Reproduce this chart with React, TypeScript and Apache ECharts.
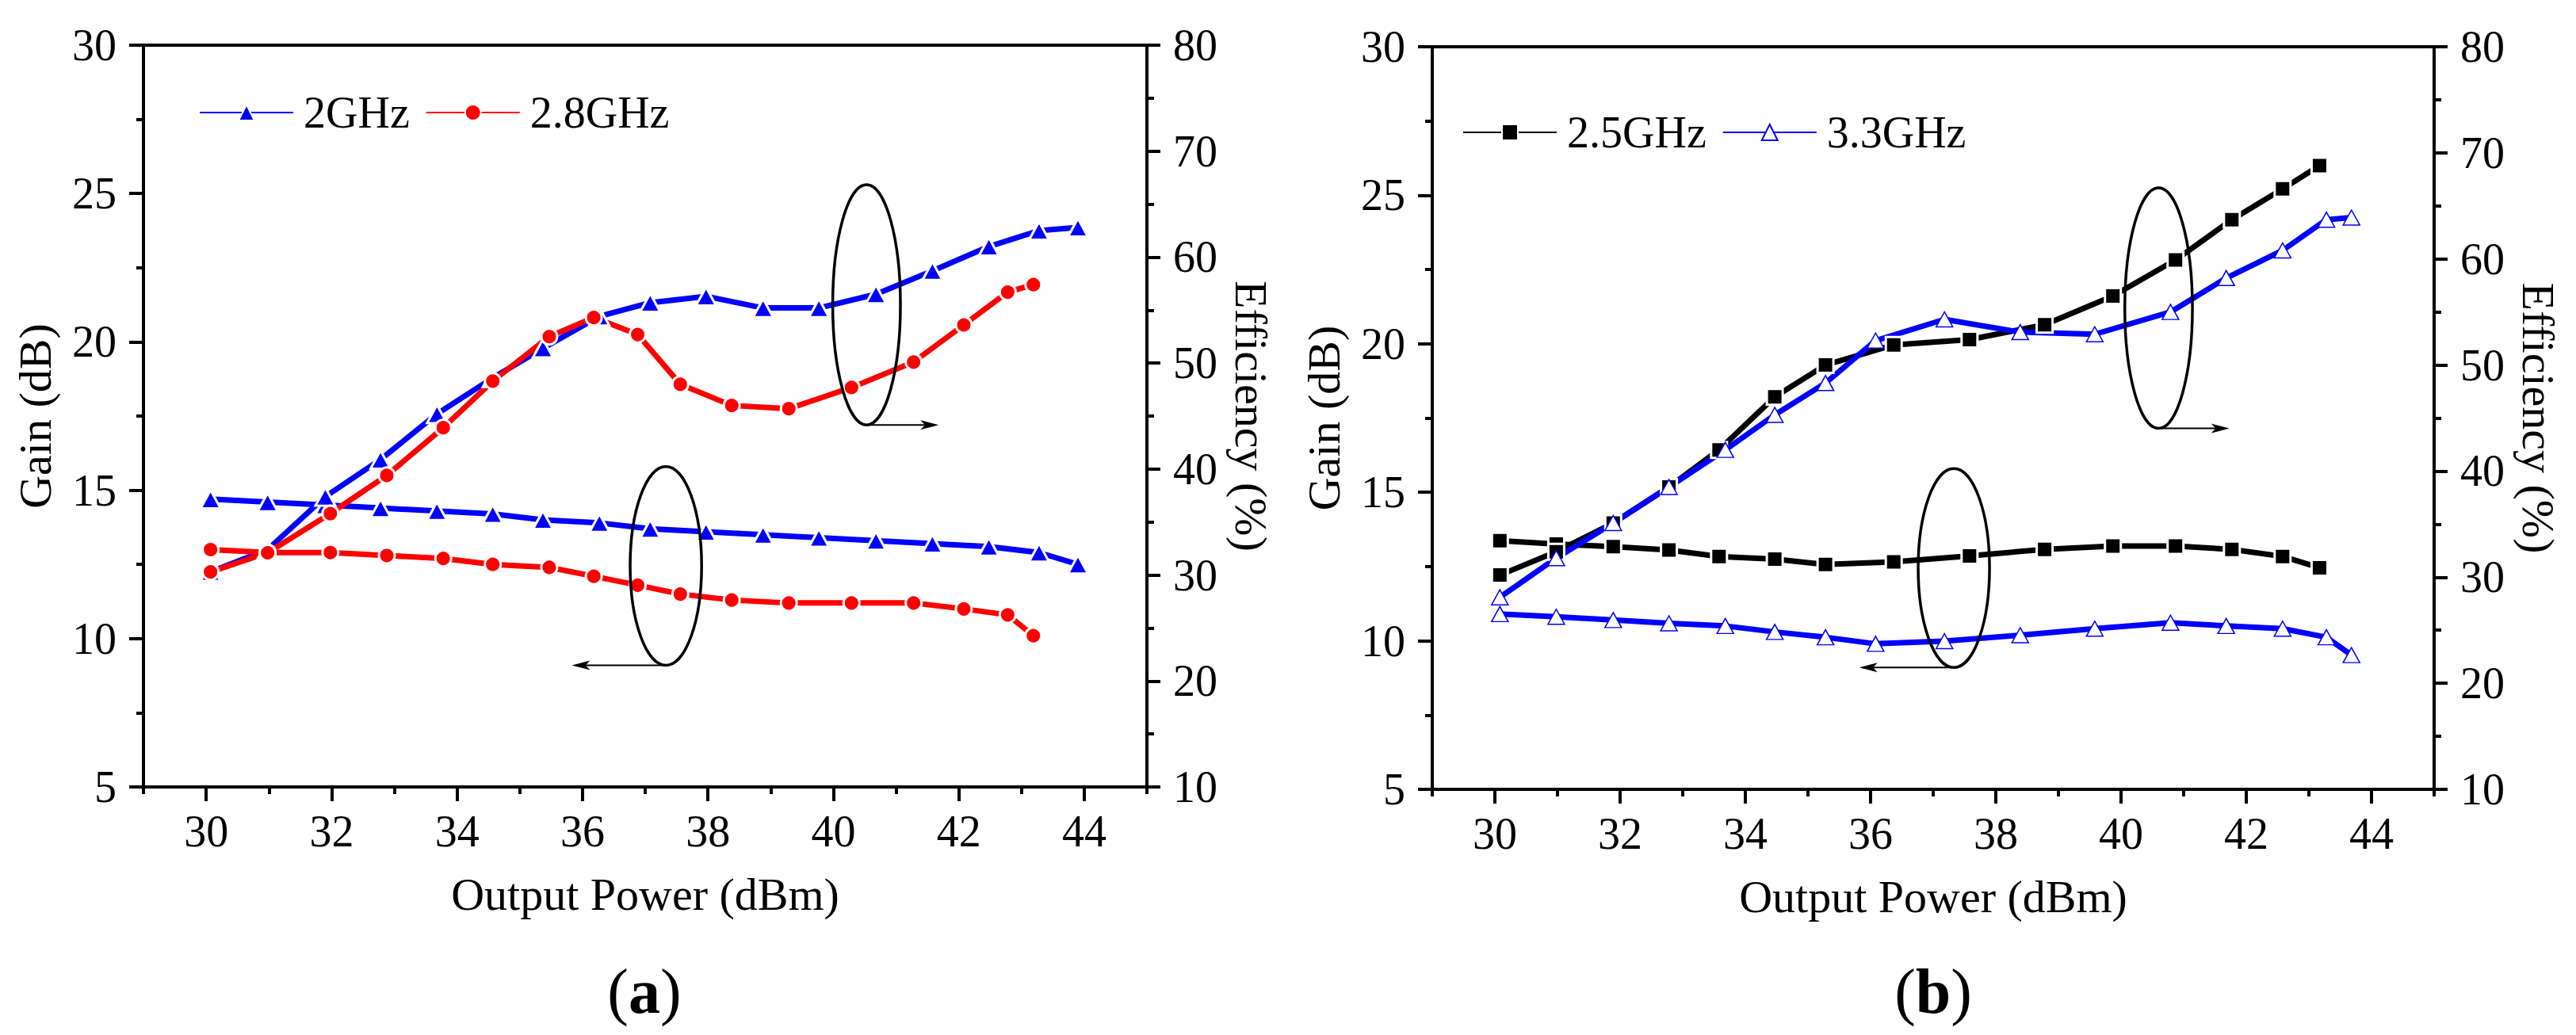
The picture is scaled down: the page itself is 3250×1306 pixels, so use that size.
import React, { useEffect, useRef } from "react";
import * as echarts from "echarts";

// ---------- Data (a) ----------
const a2GHzX = [30.07, 30.98, 31.9, 32.78, 33.68, 34.57, 35.37, 36.27, 37.08, 37.97, 38.88, 39.77, 40.68, 41.58, 42.48, 43.28, 43.9];
const a2GHzGain = [14.7, 14.6, 14.5, 14.4, 14.3, 14.2, 14.0, 13.9, 13.7, 13.6, 13.5, 13.4, 13.3, 13.2, 13.1, 12.9, 12.5];
const a2GHzEff = [30.3, 32.4, 37.4, 40.9, 45.2, 48.6, 51.4, 54.4, 55.7, 56.3, 55.2, 55.2, 56.5, 58.7, 61.0, 62.5, 62.8];

const a28GHzX = [30.07, 30.98, 31.98, 32.88, 33.78, 34.57, 35.47, 36.18, 36.88, 37.56, 38.38, 39.29, 40.29, 41.28, 42.08, 42.78, 43.19];
const a28GHzGain = [13.0, 12.9, 12.9, 12.8, 12.7, 12.5, 12.4, 12.1, 11.8, 11.5, 11.3, 11.2, 11.2, 11.2, 11.0, 10.8, 10.1];
const a28GHzEff = [30.3, 32.1, 35.8, 39.4, 43.9, 48.3, 52.5, 54.3, 52.7, 48.0, 46.0, 45.7, 47.7, 50.1, 53.6, 56.7, 57.4];

// ---------- Data (b) ----------
const b25GHzX = [30.08, 30.98, 31.89, 32.78, 33.58, 34.47, 35.28, 36.37, 37.58, 38.78, 39.87, 40.87, 41.77, 42.58, 43.17];
const b25GHzGain = [13.37, 13.26, 13.17, 13.06, 12.84, 12.75, 12.57, 12.66, 12.86, 13.08, 13.19, 13.19, 13.08, 12.84, 12.46];
const b25GHzEff = [30.2, 32.4, 35.1, 38.5, 42.0, 47.0, 50.0, 51.9, 52.4, 53.8, 56.5, 59.9, 63.7, 66.6, 68.8];

const b33GHzX = [30.08, 30.98, 31.89, 32.78, 33.68, 34.47, 35.28, 36.08, 37.18, 38.39, 39.58, 40.79, 41.68, 42.58, 43.28, 43.68];
const b33GHzGain = [10.9, 10.81, 10.7, 10.59, 10.5, 10.3, 10.12, 9.9, 9.99, 10.19, 10.41, 10.61, 10.5, 10.41, 10.12, 9.52];
const b33GHzEff = [28.1, 31.8, 35.1, 38.5, 42.0, 45.3, 48.3, 52.3, 54.3, 53.1, 52.9, 55.0, 58.2, 60.8, 63.7, 63.9];

// ---------- Axis ticks ----------
const xMajorTicks = [30, 32, 34, 36, 38, 40, 42, 44];
const xMinorTicks = [29, 31, 33, 35, 37, 39, 41, 43, 45];

const FONT = "'Liberation Serif', 'Times New Roman', serif";
const BLUE = "#0000ff";
const RED = "#ff0000";
const BLACK = "#000000";

const zip = (xs: number[], ys: number[]) => xs.map((x, i) => [x, ys[i]]);

const grids = [
  { left: 181, top: 57, width: 1266, height: 936 },
  { left: 1807, top: 59, width: 1264, height: 937 },
];

function xAxesFor(gridIndex: number) {
  return [
    {
      type: "value",
      gridIndex,
      min: 29,
      max: 45,
      position: "bottom",
      axisLine: { show: true, lineStyle: { color: BLACK, width: 4 } },
      axisTick: { show: true, inside: false, length: 18, lineStyle: { width: 4, color: BLACK }, customValues: xMajorTicks },
      axisLabel: { show: true, customValues: xMajorTicks, fontSize: 56, fontFamily: FONT, color: BLACK, margin: 28 },
      splitLine: { show: false },
      name: "Output Power (dBm)",
      nameLocation: "middle",
      nameGap: 106,
      nameTextStyle: { fontSize: 58, fontFamily: FONT, color: BLACK },
    },
    {
      type: "value",
      gridIndex,
      min: 29,
      max: 45,
      position: "bottom",
      axisLine: { show: false },
      axisTick: { show: true, inside: false, length: 9, lineStyle: { width: 4, color: BLACK }, customValues: xMinorTicks },
      axisLabel: { show: false },
      splitLine: { show: false },
    },
  ];
}

function yAxesFor(gridIndex: number) {
  return [
    {
      type: "value",
      gridIndex,
      position: "left",
      min: 5,
      max: 30,
      interval: 5,
      axisLine: { show: true, lineStyle: { color: BLACK, width: 4 } },
      axisTick: { show: true, inside: false, length: 18, lineStyle: { width: 4, color: BLACK } },
      minorTick: { show: true, splitNumber: 2, length: 9, lineStyle: { width: 4, color: BLACK } },
      axisLabel: { fontSize: 56, fontFamily: FONT, color: BLACK, margin: 34 },
      splitLine: { show: false },
      name: "Gain (dB)",
      nameLocation: "middle",
      nameRotate: 90,
      nameGap: 108,
      nameTextStyle: { fontSize: 58, fontFamily: FONT, color: BLACK },
    },
    {
      type: "value",
      gridIndex,
      position: "right",
      min: 10,
      max: 80,
      interval: 10,
      axisLine: { show: true, lineStyle: { color: BLACK, width: 4 } },
      axisTick: { show: true, inside: false, length: 17, lineStyle: { width: 4, color: BLACK } },
      minorTick: { show: true, splitNumber: 2, length: 9, lineStyle: { width: 4, color: BLACK } },
      axisLabel: { fontSize: 56, fontFamily: FONT, color: BLACK, margin: 33 },
      splitLine: { show: false },
      name: "Efficiency (%)",
      nameLocation: "middle",
      nameRotate: -90,
      nameGap: 102,
      nameTextStyle: { fontSize: 58, fontFamily: FONT, color: BLACK },
    },
  ];
}

function lineSeries(
  name: string,
  data: number[][],
  xAxisIndex: number,
  yAxisIndex: number,
  color: string,
  symbol: string,
  symbolSize: number | number[],
  hollow: boolean
) {
  return {
    type: "line",
    name,
    data,
    xAxisIndex,
    yAxisIndex,
    symbol,
    symbolSize,
    showSymbol: true,
    clip: false,
    lineStyle: { color, width: 7 },
    itemStyle: hollow
      ? { color: "#ffffff", borderColor: color, borderWidth: 1.5 }
      : { color, borderColor: "#ffffff", borderWidth: 3 },
    emphasis: { disabled: true },
    z: 3,
  };
}

const series = [
  lineSeries("2GHz", zip(a2GHzX, a2GHzGain), 0, 0, BLUE, "triangle", [25, 23], false),
  lineSeries("2GHz", zip(a2GHzX, a2GHzEff), 0, 1, BLUE, "triangle", [25, 23], false),
  lineSeries("2.8GHz", zip(a28GHzX, a28GHzGain), 0, 0, RED, "circle", 20, false),
  lineSeries("2.8GHz", zip(a28GHzX, a28GHzEff), 0, 1, RED, "circle", 20, false),
  lineSeries("2.5GHz", zip(b25GHzX, b25GHzGain), 2, 2, BLACK, "rect", 20, false),
  lineSeries("2.5GHz", zip(b25GHzX, b25GHzEff), 2, 3, BLACK, "rect", 20, false),
  lineSeries("3.3GHz", zip(b33GHzX, b33GHzGain), 2, 2, BLUE, "triangle", [21, 19], true),
  lineSeries("3.3GHz", zip(b33GHzX, b33GHzEff), 2, 3, BLUE, "triangle", [21, 19], true),
];

const legendBase = {
  orient: "horizontal",
  padding: 0,
  itemWidth: 118,
  itemHeight: 25,
  itemGap: 20,
  textStyle: { fontSize: 56, fontFamily: FONT, color: BLACK, padding: [0, 0, 0, 8] },
  selectedMode: false,
};

const option: any = {
  animation: false,
  backgroundColor: "#ffffff",
  textStyle: { fontFamily: FONT },
  grid: grids.map((g) => ({ ...g, show: true, borderColor: BLACK, borderWidth: 4, backgroundColor: "transparent", containLabel: false })),
  xAxis: [...xAxesFor(0), ...xAxesFor(1)],
  yAxis: [...yAxesFor(0), ...yAxesFor(1)],
  legend: [
    { ...legendBase, left: 251, top: 114, data: ["2GHz", "2.8GHz"] },
    { ...legendBase, left: 1845, top: 139, data: ["2.5GHz", "3.3GHz"] },
  ],
  series,
};

// annotation positions (data coords in gain axis): ellipse centre, semi-axes in data units, arrow
const annots = [
  { seriesIndex: 0, cx: 40.53, cy: 21.25, rx: 0.54, ry: 4.05, arrowFrom: 40.53, arrowTo: 41.68, arrowY: 17.2 },
  { seriesIndex: 0, cx: 37.33, cy: 12.45, rx: 0.57, ry: 3.35, arrowFrom: 37.33, arrowTo: 35.83, arrowY: 9.1 },
  { seriesIndex: 4, cx: 40.6, cy: 21.2, rx: 0.54, ry: 4.05, arrowFrom: 40.6, arrowTo: 41.73, arrowY: 17.15 },
  { seriesIndex: 4, cx: 37.33, cy: 12.45, rx: 0.57, ry: 3.35, arrowFrom: 37.33, arrowTo: 35.82, arrowY: 9.1 },
];

const panelLabels = [
  { key: "a", x: 813 },
  { key: "b", x: 2439 },
];

export default function App() {
  const ref = useRef<HTMLDivElement>(null);
  useEffect(() => {
    if (!ref.current) return;
    const chart = echarts.init(ref.current, null, { renderer: "svg" });
    chart.setOption(option);

    const graphic: any[] = [];
    annots.forEach((a, i) => {
      const c = chart.convertToPixel({ seriesIndex: a.seriesIndex }, [a.cx, a.cy]) as number[];
      const e = chart.convertToPixel({ seriesIndex: a.seriesIndex }, [a.cx + a.rx, a.cy + a.ry]) as number[];
      const p0 = chart.convertToPixel({ seriesIndex: a.seriesIndex }, [a.arrowFrom, a.arrowY]) as number[];
      const p1 = chart.convertToPixel({ seriesIndex: a.seriesIndex }, [a.arrowTo, a.arrowY]) as number[];
      const rx = Math.abs(e[0] - c[0]);
      const ry = Math.abs(c[1] - e[1]);
      graphic.push({
        type: "ellipse",
        id: "ell" + i,
        z: 100,
        shape: { cx: c[0], cy: c[1], rx, ry },
        style: { fill: "none", stroke: BLACK, lineWidth: 3.5 },
      });
      const dir = p1[0] > p0[0] ? 1 : -1;
      const headLen = 23;
      const headHalf = 6;
      graphic.push({
        type: "line",
        id: "arl" + i,
        z: 100,
        shape: { x1: p0[0], y1: p0[1], x2: p1[0] - dir * headLen * 0.6, y2: p1[1] },
        style: { stroke: BLACK, lineWidth: 2 },
      });
      graphic.push({
        type: "polygon",
        id: "arh" + i,
        z: 100,
        shape: {
          points: [
            [p1[0], p1[1]],
            [p1[0] - dir * headLen, p1[1] - headHalf],
            [p1[0] - dir * headLen * 0.75, p1[1]],
            [p1[0] - dir * headLen, p1[1] + headHalf],
          ],
        },
        style: { fill: BLACK, stroke: "none" },
      });
    });
    panelLabels.forEach((p) => {
      graphic.push({
        type: "text",
        id: "lab" + p.key,
        z: 100,
        x: p.x,
        y: 1251,
        style: {
          text: "{n|(}{b|" + p.key + "}{n|)}",
          align: "center",
          verticalAlign: "middle",
          rich: {
            n: { fontSize: 80, fontFamily: FONT, fill: BLACK },
            b: { fontSize: 80, fontFamily: FONT, fontWeight: "bold", fill: BLACK },
          },
        },
      });
    });
    chart.setOption({ graphic });

    return () => chart.dispose();
  }, []);
  return (
    <div
      ref={ref}
      style={{ position: "absolute", left: 0, top: 0, width: 3250, height: 1306, background: "#ffffff" }}
    />
  );
}
